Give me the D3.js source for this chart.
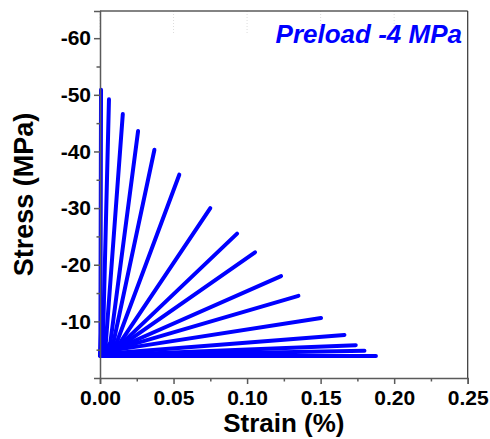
<!DOCTYPE html>
<html>
<head>
<meta charset="utf-8">
<script src="https://cdn.jsdelivr.net/npm/d3@7"></script>
<style>
  html, body { margin: 0; padding: 0; background: #fff; }
  svg { display: block; }
</style>
</head>
<body>
<svg id="chart" width="490" height="439"></svg>
<script>
// Loading cycles: each cycle is a list of [strain (%), stress (MPa)] points
const cycle01 = [[0.000, -4.0], [0.0003, -8.0], [0.0007, -50.9]];
const cycle02 = [[0.000, -4.0], [0.002, -6.5], [0.0061, -49.2]];
const cycle03 = [[0.000, -4.0], [0.004, -6.3], [0.0155, -46.6]];
const cycle04 = [[0.000, -4.0], [0.007, -6.2], [0.0259, -43.6]];
const cycle05 = [[0.000, -4.0], [0.009, -6.1], [0.0370, -40.3]];
const cycle06 = [[0.000, -4.0], [0.011, -6.0], [0.0539, -35.9]];
const cycle07 = [[0.000, -4.0], [0.013, -6.0], [0.0750, -30.0]];
const cycle08 = [[0.000, -4.0], [0.014, -5.9], [0.0932, -25.5]];
const cycle09 = [[0.000, -4.0], [0.015, -5.8], [0.1054, -22.2]];
const cycle10 = [[0.000, -4.0], [0.015, -5.6], [0.1231, -18.0]];
const cycle11 = [[0.000, -4.0], [0.015, -5.4], [0.1349, -14.5]];
const cycle12 = [[0.000, -4.0], [0.014, -5.1], [0.1503, -10.6]];
const cycle13 = [[0.000, -4.0], [0.010, -4.4], [0.1662, -7.6]];
const cycle14 = [[0.000, -4.0], [0.010, -4.1], [0.1739, -5.8]];
const cycle15 = [[0.000, -4.0], [0.010, -4.0], [0.1798, -4.8]];
const cycle16 = [[0.000, -3.9], [0.1876, -3.9]];
const cycles = [cycle01, cycle02, cycle03, cycle04, cycle05, cycle06, cycle07, cycle08,
                cycle09, cycle10, cycle11, cycle12, cycle13, cycle14, cycle15, cycle16];

// Axis ticks
const xMajorTicks = [0, 0.05, 0.10, 0.15, 0.20, 0.25];
const xMinorTicks = [0.025, 0.075, 0.125, 0.175, 0.225];
const yMajorTicks = [-10, -20, -30, -40, -50, -60];
const yMinorTicks = [-5, -15, -25, -35, -45, -55];

const xTitle = "Strain (%)";
const yTitle = "Stress (MPa)";
const annotation = "Preload -4 MPa";

const svg = d3.select("#chart");
const plotLeft = 100, plotRight = 467.7, plotTop = 11, plotBottom = 378;

const x = d3.scaleLinear().domain([0, 0.25]).range([plotLeft, plotRight]);
const y = d3.scaleLinear().domain([0, -64.8]).range([plotBottom, plotTop]);

const axisColor = "#5a5a5a";
const fontFamily = "'Liberation Sans', Arial, sans-serif";

// faint dotted grid stubs along the top edge
svg.append("g")
  .selectAll("line")
  .data(xMajorTicks.slice(0, 5))
  .join("line")
  .attr("x1", d => x(d)).attr("x2", d => x(d))
  .attr("y1", plotTop).attr("y2", plotTop + 24)
  .attr("stroke", "#dcdcdc")
  .attr("stroke-width", 1)
  .attr("stroke-dasharray", "1,2");

// cycle curves
const line = d3.line().x(d => x(d[0])).y(d => y(d[1]));
svg.append("g")
  .selectAll("path")
  .data(cycles)
  .join("path")
  .attr("d", line)
  .attr("fill", "none")
  .attr("stroke", "#0000ff")
  .attr("stroke-width", 4)
  .attr("stroke-linecap", "round")
  .attr("stroke-linejoin", "round");

// frame: top and right edges
svg.append("line")
  .attr("x1", plotLeft).attr("x2", plotRight).attr("y1", plotTop).attr("y2", plotTop)
  .attr("stroke", axisColor).attr("stroke-width", 1.5);
svg.append("line")
  .attr("x1", plotRight).attr("x2", plotRight).attr("y1", plotTop).attr("y2", plotBottom)
  .attr("stroke", "#333").attr("stroke-width", 1.2);

// bottom axis
svg.append("g").attr("transform", `translate(0,${plotBottom})`)
  .call(d3.axisBottom(x).tickValues(xMajorTicks).tickFormat(d3.format(".2f"))
    .tickSize(6).tickPadding(6));
svg.append("g").attr("transform", `translate(0,${plotBottom})`)
  .call(d3.axisBottom(x).tickValues(xMinorTicks).tickFormat("").tickSize(3.5))
  .call(g => g.select(".domain").remove());

// left axis (plain hyphen for the minus sign)
svg.append("g").attr("transform", `translate(${plotLeft},0)`)
  .call(d3.axisLeft(y).tickValues(yMajorTicks).tickFormat(d => String(d))
    .tickSize(6).tickPadding(3));
svg.append("g").attr("transform", `translate(${plotLeft},0)`)
  .call(d3.axisLeft(y).tickValues(yMinorTicks).tickFormat("").tickSize(3.5))
  .call(g => g.select(".domain").remove());

svg.selectAll(".domain").attr("stroke", axisColor).attr("stroke-width", 1.5);
svg.selectAll(".tick line").attr("stroke", axisColor).attr("stroke-width", 1.5);
svg.selectAll(".tick text")
  .attr("fill", "#000")
  .style("font-family", fontFamily)
  .style("font-weight", "bold")
  .style("font-size", "21px");

// axis titles
svg.append("text")
  .attr("x", (plotLeft + plotRight) / 2).attr("y", 432)
  .attr("text-anchor", "middle")
  .style("font-family", fontFamily).style("font-weight", "bold").style("font-size", "26px")
  .text(xTitle);

svg.append("text")
  .attr("transform", `translate(33,${(plotTop + plotBottom) / 2}) rotate(-90)`)
  .attr("text-anchor", "middle")
  .style("font-family", fontFamily).style("font-weight", "bold").style("font-size", "27px")
  .text(yTitle);

// annotation
svg.append("text")
  .attr("x", 462).attr("y", 43)
  .attr("text-anchor", "end")
  .attr("fill", "#0000ff")
  .style("font-family", fontFamily).style("font-weight", "bold").style("font-style", "italic")
  .style("font-size", "26px")
  .text(annotation);
</script>
</body>
</html>
